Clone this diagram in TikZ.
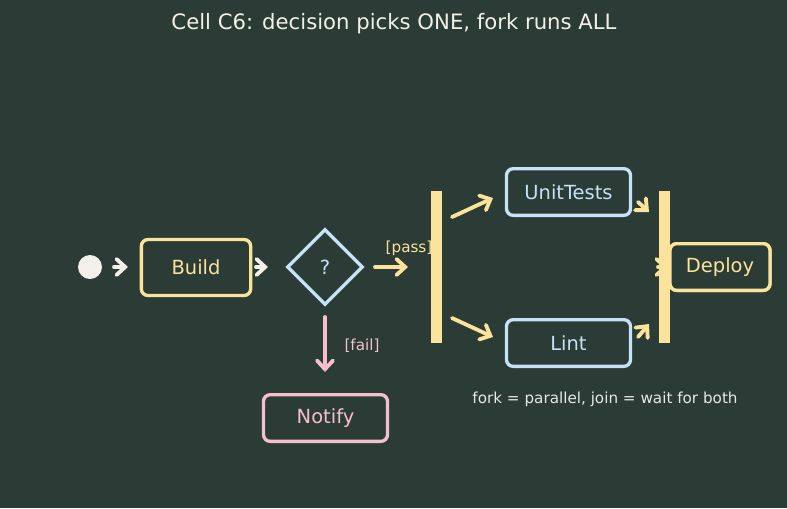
\documentclass[tikz,border=0pt]{standalone}
\usepackage{fontspec}
\setmainfont{DejaVu Sans}
\usetikzlibrary{arrows.meta,shapes.geometric}
\definecolor{bg}{HTML}{2B3B35}
\definecolor{yel}{HTML}{FBE39B}
\definecolor{blu}{HTML}{C5E2F6}
\definecolor{pnk}{HTML}{F6BFCD}
\definecolor{crm}{HTML}{F2F1E8}
\definecolor{txt}{HTML}{E6EAE6}
\tikzset{
  x=0.75pt,y=-0.75pt,
  box/.style={draw=#1,text=#1,line width=2.5pt,rounded corners=5pt,fill=bg,font=\fontsize{14.6}{17}\selectfont,inner sep=0pt},
  arr/.style={draw=#1,line width=2.9pt,line cap=round,-{Straight Barb[length=6.5pt,width=12pt,line cap=round]}},
  bar/.style={fill=yel,draw=none,inner sep=0pt,minimum width=8.25pt,minimum height=114pt},
  lbl/.style={text=#1,font=\fontsize{11.4}{13}\selectfont,inner sep=0pt}
}
\begin{document}
\begin{tikzpicture}
\fill[bg] (0,0) rectangle (787,508);
\useasboundingbox (0,0) rectangle (787,508);
\node[text=crm,font=\fontsize{15.9}{18}\selectfont] (title) at (394,24) {Cell C6: decision picks ONE, fork runs ALL};
\node[circle,fill=crm,minimum size=18pt,inner sep=0pt] (start) at (90,267) {};
\node[box=yel,minimum width=82pt,minimum height=42pt] (build) at (196,267.5) {Build};
\node[diamond,draw=blu,text=blu,line width=2.5pt,minimum width=57pt,minimum height=57pt,inner sep=0pt,font=\fontsize{14.6}{17}\selectfont] (dec) at (325,267) {?};
\node[bar] (fork) at (436.5,267) {};
\node[box=blu,minimum width=93pt,minimum height=35pt] (unit) at (568.5,192) {UnitTests};
\node[box=blu,minimum width=93pt,minimum height=35pt] (lint) at (568.5,343) {Lint};
\node[bar] (join) at (664.5,267) {};
\node[box=yel,minimum width=75pt,minimum height=35pt] (deploy) at (720,267) {Deploy};
\node[box=pnk,minimum width=93pt,minimum height=35pt] (notify) at (325.5,418) {Notify};
\coordinate (s1) at (114,267); \coordinate (s2) at (128,267);
\coordinate (b1) at (256,267); \coordinate (b2) at (268,267);
\coordinate (d1) at (375,267); \coordinate (d2) at (408,267);
\coordinate (f1) at (452,217); \coordinate (f2) at (493,198);
\coordinate (f3) at (452,318); \coordinate (f4) at (493,337);
\coordinate (u1) at (638,202); \coordinate (u2) at (649,212);
\coordinate (l1) at (638,337); \coordinate (l2) at (649,324);
\coordinate (j1) at (658,267); \coordinate (j2) at (668,267);
\coordinate (n1) at (325,317); \coordinate (n2) at (325,372);
\draw[arr=crm] (s1) -- (s2);
\draw[arr=crm] (b1) -- (b2);
\draw[arr=yel] (d1) -- (d2);
\draw[arr=yel] (f1) -- (f2);
\draw[arr=yel] (f3) -- (f4);
\draw[arr=yel] (u1) -- (u2);
\draw[arr=yel] (l1) -- (l2);
\draw[arr=yel] (j1) -- (j2);
\draw[arr=pnk] (n1) -- (n2);
\node[bar] at (664.5,267) {};
\node[box=yel,minimum width=75pt,minimum height=35pt] at (720,267) {Deploy};
\node[lbl=yel] (pass) at (409,248) {[pass]};
\node[lbl=pnk] (fail) at (362,346) {[fail]};
\node[lbl=txt] (note) at (605,399) {fork = parallel, join = wait for both};
\end{tikzpicture}
\end{document}
